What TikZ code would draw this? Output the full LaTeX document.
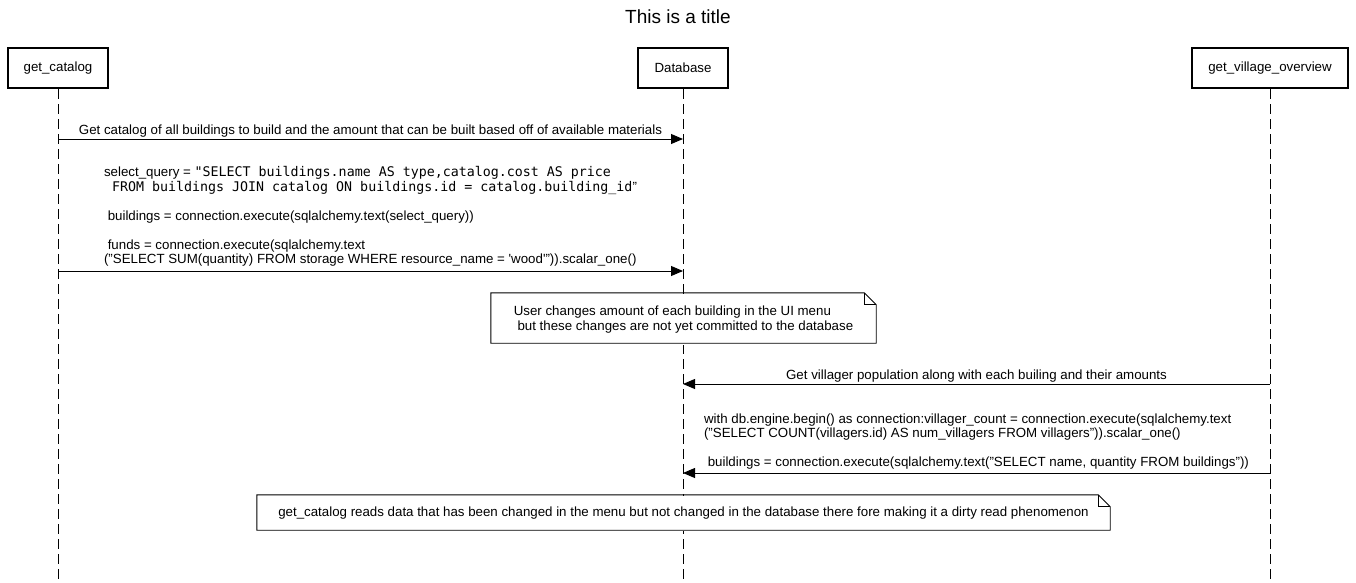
\documentclass[tikz,border=0pt]{standalone}
\usepackage{fontspec}
\setmainfont{Liberation Sans}
\newfontfamily\codefont{DejaVu Sans Mono}
\usetikzlibrary{positioning,arrows.meta}

\tikzset{
  actor/.style={draw, line width=2pt, minimum height=40pt, font=\fontsize{13.3}{15}\selectfont},
  lifeline/.style={line width=0.9pt, dash pattern=on 10pt off 5pt},
  msg/.style={line width=0.9pt, -{Triangle[length=12pt, width=10pt]}},
  lbl/.style={font=\fontsize{13.3}{14.5}\selectfont, align=left, inner sep=0pt},
  notebox/.style={lbl, fill=white},
  noteline/.style={draw, line width=0.9pt}
}
\newcommand{\sansgap}{\hspace*{0.28em}}
\newcommand{\codegap}{{\codefont\hspace*{0.6em}}}

\begin{document}
\begin{tikzpicture}[x=1pt, y=-1pt]
\useasboundingbox (0,0) rectangle (1356,582);

\node[font=\fontsize{19}{22}\selectfont] (title) at (678,17) {This is a title};

\node[actor, minimum width=100pt] (cat) at (58,68) {get\_catalog};
\node[actor, minimum width=90pt] (db) at (683,68) {Database};
\node[actor, minimum width=156pt] (vil) at (1270,68) {get\_village\_overview};

\draw[lifeline] (cat.south) -- (cat.south |- 0,582);
\draw[lifeline] (db.south) -- (db.south |- 0,582);
\draw[lifeline] (vil.south) -- (vil.south |- 0,582);

\draw[msg] (cat |- 0,139) -- node[lbl, above=1.5pt] (m1) {Get catalog of all buildings to build and the amount that can be built based off of available materials} (db |- 0,139);

\draw[msg] (cat |- 0,271) -- node[lbl, above=4pt] (m2) {select\_query = {\codefont"SELECT buildings.name AS type,catalog.cost AS price}\\
\codegap{\codefont FROM buildings JOIN catalog ON buildings.id = catalog.building\_id}"\\[14.5pt]
\sansgap buildings = connection.execute(sqlalchemy.text(select\_query))\\[14.5pt]
\sansgap funds = connection.execute(sqlalchemy.text\\
("SELECT SUM(quantity) FROM storage WHERE resource\_name = \textquotesingle wood\textquotesingle")).scalar\_one()} (db |- 0,271);

% note over the database
\node[notebox, minimum width=385pt, minimum height=50pt] (n1) at (683.5,319.5) {User changes amount of each building in the UI menu\\
\sansgap but these changes are not yet committed to the database};
\draw[noteline] ([yshift=1.5pt]n1.north west) -- ([xshift=-12pt, yshift=1.5pt]n1.north east) -- ([yshift=-10.5pt]n1.north east) -- ([yshift=1.5pt]n1.south east) -- ([yshift=1.5pt]n1.south west) -- cycle;
\draw[noteline] ([xshift=-12pt, yshift=1.5pt]n1.north east) -- ([xshift=-12pt, yshift=-10.5pt]n1.north east) -- ([yshift=-10.5pt]n1.north east);

\draw[msg] (vil |- 0,384) -- node[lbl, above=1.5pt] (m3) {Get villager population along with each builing and their amounts} (db |- 0,384);

\draw[msg] (vil |- 0,473) -- node[lbl, above=3pt] (m4) {with db.engine.begin() as connection:villager\_count = connection.execute(sqlalchemy.text\\
("SELECT COUNT(villagers.id) AS num\_villagers FROM villagers")).scalar\_one()\\[14.5pt]
\sansgap buildings = connection.execute(sqlalchemy.text("SELECT name, quantity FROM buildings"))} (db |- 0,473);

% note across the picture
\node[notebox, minimum width=853pt, minimum height=35pt] (n2) at (683.5,513.5) {get\_catalog reads data that has been changed in the menu but not changed in the database there fore making it a dirty read phenomenon};
\draw[noteline] ([yshift=1pt]n2.north west) -- ([xshift=-12pt, yshift=1pt]n2.north east) -- ([yshift=-11pt]n2.north east) -- ([yshift=1pt]n2.south east) -- ([yshift=1pt]n2.south west) -- cycle;
\draw[noteline] ([xshift=-12pt, yshift=1pt]n2.north east) -- ([xshift=-12pt, yshift=-11pt]n2.north east) -- ([yshift=-11pt]n2.north east);

\end{tikzpicture}
\end{document}
